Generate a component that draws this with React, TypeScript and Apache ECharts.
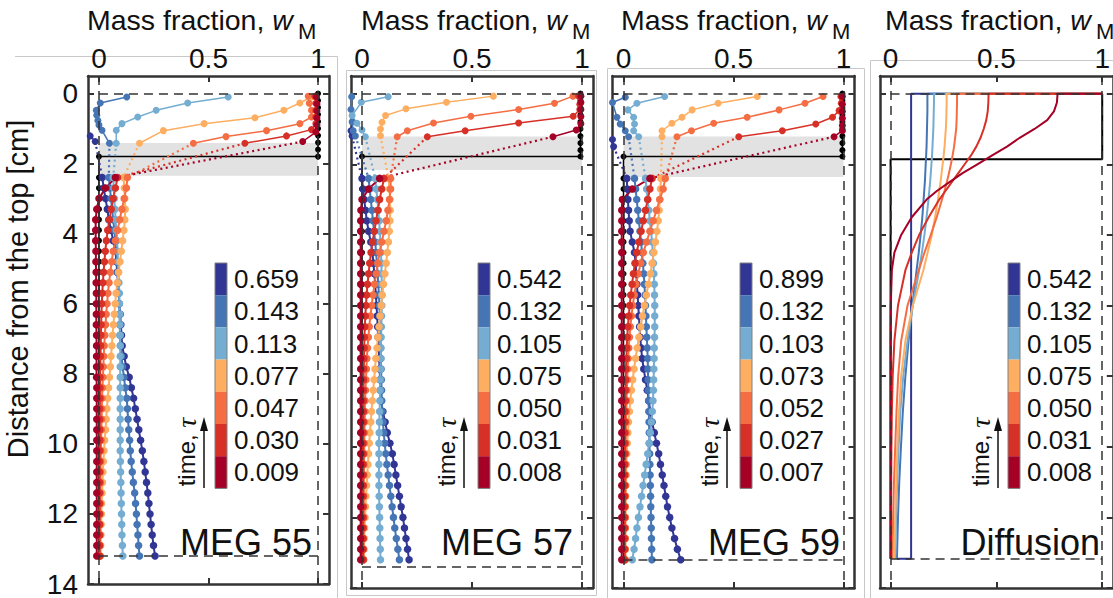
import React, { useEffect, useRef } from 'react';
import * as echarts from 'echarts';

const FONT = "'Liberation Sans', Arial, Helvetica, sans-serif";
const FRAME = '#333333';
const TEXT = '#111111';
const COLORS = ['#313695', '#4575b4', '#74add1', '#fdae61', '#f46d43', '#d73027', '#a50026'];
const X_TICKS = [0, 0.5, 1];
const Y_TICKS = [0, 2, 4, 6, 8, 10, 12, 14];

const LOWER_DEPTHS = [2.4, 2.7, 3.0, 3.3, 3.6, 3.9, 4.2, 4.5, 4.8, 5.1, 5.4, 5.7, 6.0, 6.3, 6.6, 6.9, 7.2, 7.5, 7.8, 8.1, 8.4, 8.7, 9.0, 9.3, 9.6, 9.9, 10.2, 10.5, 10.8, 11.1, 11.4, 11.7, 12.0, 12.3, 12.6, 12.9, 13.2];
const BLACK_TOP_DEPTHS = [0, 0.2, 0.4, 0.6, 0.8, 1.0, 1.2, 1.4, 1.6];

const TAU_MEG55 = ['0.659', '0.143', '0.113', '0.077', '0.047', '0.030', '0.009'];
const TAU_MEG57 = ['0.542', '0.132', '0.105', '0.075', '0.050', '0.031', '0.008'];
const TAU_MEG59 = ['0.899', '0.132', '0.103', '0.073', '0.052', '0.027', '0.007'];
const TAU_DIFF = ['0.542', '0.132', '0.105', '0.075', '0.050', '0.031', '0.008'];

// upper (above the interface) measured points [w, depth]
const MEG55_TOP = [
  [[-0.04, 1.21], [-0.017, 1.37]],
  [[0.127, 0.1], [0.006, 0.27], [-0.012, 0.48], [-0.01, 0.62], [-0.005, 0.77], [0.0, 0.9], [0.014, 1.05], [0.048, 1.42]],
  [[0.59, 0.1], [0.405, 0.27], [0.261, 0.48], [0.177, 0.67], [0.105, 0.86], [0.079, 1.05], [0.079, 1.42]],
  [[0.97, 0.1], [0.917, 0.27], [0.844, 0.48], [0.712, 0.69], [0.48, 0.86], [0.294, 1.06], [0.185, 1.42]],
  [[0.955, 0.08], [0.96, 0.28], [0.97, 0.48], [0.97, 0.67], [0.917, 0.86], [0.765, 1.06], [0.58, 1.23], [0.431, 1.42]],
  [[0.985, 0.08], [0.99, 0.28], [0.99, 0.48], [0.99, 0.67], [0.99, 0.86], [0.97, 1.03], [0.856, 1.21], [0.666, 1.42]],
  [[0.993, 0.1], [0.995, 0.3], [0.995, 0.5], [0.995, 0.7], [0.995, 0.9], [0.99, 1.1], [0.93, 1.37]],
];
const MEG55_LOWER = [
  [0.015, 0.022, 0.03, 0.038, 0.045, 0.055, 0.065, 0.075, 0.08, 0.083, 0.087, 0.09, 0.093, 0.097, 0.1, 0.103, 0.106, 0.115, 0.125, 0.138, 0.148, 0.158, 0.166, 0.174, 0.182, 0.19, 0.198, 0.205, 0.211, 0.217, 0.223, 0.228, 0.233, 0.238, 0.243, 0.249, 0.256],
  [0.045, 0.05, 0.055, 0.06, 0.065, 0.07, 0.075, 0.08, 0.083, 0.086, 0.088, 0.09, 0.092, 0.094, 0.095, 0.096, 0.098, 0.103, 0.108, 0.114, 0.12, 0.127, 0.13, 0.133, 0.136, 0.14, 0.143, 0.147, 0.152, 0.157, 0.163, 0.167, 0.171, 0.174, 0.178, 0.181, 0.185],
  [0.065, 0.068, 0.07, 0.073, 0.076, 0.079, 0.082, 0.085, 0.087, 0.089, 0.091, 0.093, 0.094, 0.095, 0.096, 0.097, 0.097, 0.097, 0.097, 0.097, 0.097, 0.097, 0.097, 0.097, 0.097, 0.097, 0.097, 0.098, 0.099, 0.1, 0.101, 0.102, 0.103, 0.104, 0.105, 0.107, 0.109],
  [0.112, 0.116, 0.118, 0.12, 0.118, 0.114, 0.108, 0.102, 0.096, 0.09, 0.084, 0.078, 0.074, 0.07, 0.066, 0.062, 0.059, 0.055, 0.052, 0.048, 0.044, 0.04, 0.036, 0.033, 0.03, 0.026, 0.023, 0.02, 0.018, 0.016, 0.014, 0.012, 0.011, 0.01, 0.009, 0.008, 0.007],
  [0.13, 0.125, 0.115, 0.105, 0.095, 0.085, 0.075, 0.065, 0.058, 0.052, 0.046, 0.041, 0.037, 0.033, 0.03, 0.027, 0.024, 0.022, 0.02, 0.018, 0.016, 0.014, 0.013, 0.012, 0.011, 0.01, 0.009, 0.008, 0.007, 0.007, 0.006, 0.006, 0.005, 0.005, 0.005, 0.005, 0.005],
  [0.085, 0.075, 0.065, 0.056, 0.048, 0.04, 0.034, 0.029, 0.025, 0.021, 0.018, 0.015, 0.013, 0.011, 0.01, 0.009, 0.008, 0.007, 0.006, 0.005, 0.005, 0.005, 0.004, 0.004, 0.004, 0.004, 0.004, 0.003, 0.003, 0.003, 0.003, 0.003, 0.003, 0.003, 0.003, 0.003, 0.003],
  [0.075, 0.03, 0.0, -0.01, -0.015, -0.015, -0.015, -0.014, -0.014, -0.013, -0.013, -0.012, -0.012, -0.012, -0.012, -0.011, -0.011, -0.011, -0.011, -0.011, -0.01, -0.01, -0.01, -0.01, -0.01, -0.01, -0.01, -0.01, -0.01, -0.01, -0.01, -0.01, -0.01, -0.01, -0.01, -0.01, -0.01],
];

const MEG57_TOP = [
  [[-0.05, 1.05], [-0.045, 1.2]],
  [[-0.047, 0.085], [-0.05, 0.45], [-0.045, 0.8], [-0.04, 1.05], [-0.03, 1.2]],
  [[0.119, 0.085], [-0.003, 0.245], [-0.045, 0.62], [-0.023, 0.84], [0.0, 1.03], [0.015, 1.22]],
  [[0.597, 0.07], [0.384, 0.245], [0.2, 0.43], [0.107, 0.62], [0.091, 0.81], [0.084, 1.0], [0.084, 1.19]],
  [[0.959, 0.07], [0.875, 0.27], [0.712, 0.45], [0.495, 0.64], [0.325, 0.83], [0.206, 1.05], [0.16, 1.22]],
  [[0.985, 0.07], [0.99, 0.3], [0.99, 0.45], [0.96, 0.64], [0.712, 0.83], [0.469, 1.05], [0.297, 1.22]],
  [[0.995, 0.07], [0.995, 0.25], [0.995, 0.45], [0.995, 0.65], [0.995, 0.85], [0.974, 1.03], [0.868, 1.22]],
];
const MEG57_LOWER = [
  [0.0, 0.005, 0.01, 0.016, 0.022, 0.03, 0.04, 0.047, 0.052, 0.056, 0.06, 0.063, 0.066, 0.069, 0.071, 0.073, 0.076, 0.078, 0.08, 0.082, 0.083, 0.086, 0.095, 0.105, 0.115, 0.127, 0.138, 0.146, 0.154, 0.162, 0.17, 0.178, 0.186, 0.193, 0.2, 0.207, 0.214],
  [0.03, 0.035, 0.04, 0.045, 0.05, 0.055, 0.06, 0.064, 0.068, 0.071, 0.074, 0.077, 0.079, 0.081, 0.083, 0.084, 0.085, 0.086, 0.087, 0.088, 0.089, 0.09, 0.092, 0.095, 0.099, 0.103, 0.108, 0.113, 0.119, 0.125, 0.131, 0.137, 0.143, 0.149, 0.156, 0.163, 0.17],
  [0.06, 0.065, 0.07, 0.074, 0.078, 0.081, 0.084, 0.086, 0.088, 0.089, 0.09, 0.09, 0.09, 0.089, 0.088, 0.087, 0.086, 0.085, 0.084, 0.083, 0.082, 0.081, 0.08, 0.079, 0.078, 0.077, 0.077, 0.077, 0.077, 0.077, 0.078, 0.079, 0.08, 0.081, 0.082, 0.083, 0.084],
  [0.12, 0.125, 0.127, 0.128, 0.127, 0.124, 0.12, 0.115, 0.11, 0.104, 0.098, 0.092, 0.087, 0.082, 0.077, 0.072, 0.068, 0.063, 0.059, 0.055, 0.051, 0.047, 0.043, 0.04, 0.036, 0.033, 0.03, 0.027, 0.024, 0.021, 0.018, 0.016, 0.014, 0.012, 0.01, 0.009, 0.008],
  [0.13, 0.13, 0.125, 0.118, 0.11, 0.1, 0.09, 0.08, 0.072, 0.064, 0.057, 0.05, 0.044, 0.038, 0.033, 0.029, 0.025, 0.022, 0.02, 0.018, 0.016, 0.014, 0.013, 0.012, 0.011, 0.01, 0.01, 0.009, 0.009, 0.008, 0.008, 0.008, 0.008, 0.007, 0.007, 0.007, 0.007],
  [0.1, 0.09, 0.08, 0.072, 0.064, 0.056, 0.048, 0.041, 0.035, 0.03, 0.025, 0.021, 0.018, 0.015, 0.013, 0.011, 0.01, 0.009, 0.008, 0.007, 0.007, 0.006, 0.006, 0.006, 0.005, 0.005, 0.005, 0.005, 0.005, 0.005, 0.005, 0.005, 0.005, 0.005, 0.005, 0.005, 0.005],
  [0.08, 0.03, 0.0, -0.005, -0.006, -0.006, -0.006, -0.006, -0.006, -0.006, -0.006, -0.006, -0.006, -0.006, -0.006, -0.006, -0.006, -0.006, -0.006, -0.006, -0.006, -0.006, -0.006, -0.006, -0.006, -0.006, -0.006, -0.006, -0.006, -0.006, -0.006, -0.006, -0.006, -0.006, -0.006, -0.006, -0.006],
];

const MEG59_TOP = [
  [[-0.05, 1.3], [-0.045, 1.5]],
  [[0.008, 0.1], [-0.05, 0.25], [-0.03, 0.67], [-0.015, 0.86], [0.008, 1.05], [0.023, 1.22]],
  [[0.187, 0.08], [0.061, 0.27], [0.02, 0.46], [0.046, 0.67], [0.05, 0.86], [0.046, 1.05], [0.069, 1.22]],
  [[0.608, 0.08], [0.43, 0.27], [0.312, 0.46], [0.266, 0.67], [0.22, 0.84], [0.175, 1.05], [0.175, 1.22]],
  [[0.907, 0.08], [0.825, 0.27], [0.707, 0.46], [0.562, 0.67], [0.41, 0.84], [0.309, 1.05], [0.243, 1.22]],
  [[0.988, 0.08], [0.99, 0.27], [0.98, 0.48], [0.95, 0.67], [0.874, 0.86], [0.722, 1.05], [0.524, 1.22]],
  [[0.995, 0.08], [0.995, 0.3], [0.995, 0.5], [0.995, 0.7], [0.995, 0.9], [0.995, 1.05], [0.957, 1.22]],
];
const MEG59_LOWER = [
  [0.015, 0.017, 0.02, 0.023, 0.026, 0.03, 0.04, 0.05, 0.055, 0.058, 0.061, 0.064, 0.067, 0.07, 0.073, 0.076, 0.08, 0.085, 0.092, 0.1, 0.108, 0.115, 0.122, 0.13, 0.14, 0.15, 0.16, 0.168, 0.176, 0.184, 0.192, 0.2, 0.21, 0.22, 0.232, 0.245, 0.26],
  [0.05, 0.055, 0.06, 0.065, 0.07, 0.075, 0.08, 0.084, 0.088, 0.092, 0.095, 0.098, 0.1, 0.102, 0.104, 0.106, 0.108, 0.11, 0.111, 0.112, 0.113, 0.114, 0.115, 0.116, 0.117, 0.118, 0.119, 0.12, 0.121, 0.122, 0.123, 0.124, 0.125, 0.126, 0.127, 0.128, 0.129],
  [0.1, 0.105, 0.11, 0.115, 0.12, 0.125, 0.13, 0.133, 0.136, 0.138, 0.14, 0.141, 0.142, 0.142, 0.142, 0.141, 0.14, 0.139, 0.138, 0.137, 0.136, 0.134, 0.131, 0.127, 0.122, 0.116, 0.11, 0.103, 0.096, 0.089, 0.082, 0.075, 0.068, 0.061, 0.055, 0.048, 0.04],
  [0.17, 0.168, 0.165, 0.162, 0.158, 0.152, 0.145, 0.138, 0.13, 0.122, 0.113, 0.104, 0.095, 0.086, 0.078, 0.07, 0.062, 0.055, 0.048, 0.042, 0.036, 0.031, 0.027, 0.023, 0.02, 0.017, 0.015, 0.013, 0.012, 0.011, 0.01, 0.009, 0.009, 0.008, 0.008, 0.008, 0.008],
  [0.19, 0.18, 0.165, 0.15, 0.135, 0.12, 0.105, 0.09, 0.078, 0.067, 0.057, 0.049, 0.042, 0.036, 0.031, 0.027, 0.024, 0.021, 0.019, 0.017, 0.015, 0.014, 0.013, 0.012, 0.011, 0.01, 0.01, 0.009, 0.009, 0.009, 0.008, 0.008, 0.008, 0.008, 0.008, 0.008, 0.008],
  [0.13, 0.12, 0.11, 0.1, 0.09, 0.08, 0.07, 0.06, 0.052, 0.045, 0.039, 0.033, 0.028, 0.024, 0.02, 0.017, 0.015, 0.013, 0.011, 0.01, 0.009, 0.008, 0.007, 0.007, 0.006, 0.006, 0.006, 0.005, 0.005, 0.005, 0.005, 0.005, 0.005, 0.005, 0.005, 0.005, 0.005],
  [0.12, 0.04, -0.005, -0.008, -0.008, -0.008, -0.008, -0.008, -0.008, -0.008, -0.008, -0.008, -0.008, -0.008, -0.008, -0.008, -0.008, -0.008, -0.008, -0.008, -0.008, -0.008, -0.008, -0.008, -0.008, -0.008, -0.008, -0.008, -0.008, -0.008, -0.008, -0.008, -0.008, -0.008, -0.008, -0.008, -0.008],
];

// diffusion model profiles
const DIFF_DEPTHS = [0, 0.25, 0.5, 0.75, 1, 1.25, 1.5, 1.75, 2, 2.25, 2.5, 2.75, 3, 3.5, 4, 4.5, 5, 6, 7, 8, 9, 10, 11, 12, 13.17];
const DIFF_X = [
  [0.097, 0.097, 0.097, 0.097, 0.097, 0.097, 0.097, 0.097, 0.097, 0.097, 0.097, 0.097, 0.097, 0.097, 0.097, 0.097, 0.097, 0.097, 0.097, 0.097, 0.097, 0.097, 0.097, 0.097, 0.097],
  [0.174, 0.174, 0.174, 0.173, 0.172, 0.171, 0.17, 0.168, 0.166, 0.164, 0.162, 0.159, 0.156, 0.15, 0.142, 0.133, 0.123, 0.103, 0.085, 0.07, 0.058, 0.049, 0.041, 0.035, 0.03],
  [0.205, 0.205, 0.204, 0.203, 0.202, 0.2, 0.198, 0.196, 0.193, 0.19, 0.187, 0.183, 0.179, 0.17, 0.16, 0.148, 0.135, 0.105, 0.08, 0.06, 0.046, 0.038, 0.031, 0.026, 0.022],
  [0.265, 0.265, 0.264, 0.263, 0.261, 0.258, 0.255, 0.251, 0.246, 0.241, 0.236, 0.23, 0.224, 0.21, 0.195, 0.175, 0.155, 0.105, 0.07, 0.05, 0.04, 0.032, 0.027, 0.022, 0.018],
  [0.314, 0.314, 0.313, 0.312, 0.31, 0.305, 0.3, 0.293, 0.285, 0.276, 0.266, 0.255, 0.243, 0.218, 0.19, 0.16, 0.133, 0.08, 0.05, 0.036, 0.028, 0.022, 0.016, 0.012, 0.008],
  [0.463, 0.462, 0.459, 0.452, 0.44, 0.425, 0.405, 0.38, 0.35, 0.32, 0.29, 0.26, 0.23, 0.18, 0.135, 0.1, 0.07, 0.035, 0.018, 0.01, 0.006, 0.004, 0.003, 0.002, 0.002],
  [0.789, 0.786, 0.772, 0.74, 0.68, 0.61, 0.55, 0.48, 0.41, 0.34, 0.28, 0.22, 0.17, 0.1, 0.05, 0.018, 0.006, 0.001, 0, 0, 0, 0, 0, 0, 0],
];
const DIFF_BLUE_BOTTOM = 0.03;
const DIFF_INTERFACE = 1.86;
const DIFF_BOTTOM = 13.17;

const PANELS = [
  { name: 'MEG 55', top: MEG55_TOP, lower: MEG55_LOWER, taus: TAU_MEG55, band: [1.41, 2.35], iface: 1.8, blackX: 1.0, bottom: 13.2 },
  { name: 'MEG 57', top: MEG57_TOP, lower: MEG57_LOWER, taus: TAU_MEG57, band: [1.21, 2.16], iface: 1.78, blackX: 0.993, bottom: 13.4 },
  { name: 'MEG 59', top: MEG59_TOP, lower: MEG59_LOWER, taus: TAU_MEG59, band: [1.21, 2.36], iface: 1.78, blackX: 0.995, bottom: 13.2 },
  { name: 'Diffusion', top: null, lower: null, taus: TAU_DIFF, band: null, iface: DIFF_INTERFACE, blackX: 1.0, bottom: DIFF_BOTTOM },
];

const LAYOUT = [
  { left: 88, width: 241, titleX: 87, legendX: 215, arrowX: 204, timeX: 186, labelRight: 312 },
  { left: 351, width: 242, titleX: 361, legendX: 478, arrowX: 464, timeX: 446, labelRight: 573 },
  { left: 612.5, width: 242, titleX: 621, legendX: 740, arrowX: 727, timeX: 709, labelRight: 840 },
  { left: 880, width: 242, titleX: 885, legendX: 1008, arrowX: 998, timeX: 980, labelRight: 1100 },
];

const GRID_TOP = 76;
const GRID_H = 512;
const BLOCK_TOP = 263;
const BLOCK_H = 32.2;
const BLOCK_W = 12;

function buildOption() {
  const grid: any[] = [];
  const xAxis: any[] = [];
  const yAxis: any[] = [];
  const series: any[] = [];
  const graphic: any[] = [];

  const axisLine = { show: true, onZero: false, lineStyle: { color: FRAME, width: 2.5 } };
  const tick = (vals: number[]) => ({ show: true, inside: true, length: 6, customValues: vals, lineStyle: { color: FRAME, width: 2 } });

  LAYOUT.forEach((L, p) => {
    grid.push({ left: L.left, top: GRID_TOP, width: L.width, height: GRID_H, containLabel: false });
    xAxis.push({
      type: 'value', gridIndex: p, position: 'top', min: -0.05, max: 1.05,
      axisLine, axisTick: tick(X_TICKS), splitLine: { show: false },
      axisLabel: { show: true, customValues: X_TICKS, fontSize: 28, fontFamily: FONT, color: TEXT, margin: 4 },
    });
    xAxis.push({
      type: 'value', gridIndex: p, position: 'bottom', min: -0.05, max: 1.05,
      axisLine, axisTick: tick(X_TICKS), splitLine: { show: false }, axisLabel: { show: false },
    });
    yAxis.push({
      type: 'value', gridIndex: p, position: 'left', inverse: true, min: -0.5, max: 14,
      axisLine, axisTick: tick(Y_TICKS), splitLine: { show: false },
      axisLabel: { show: p === 0, customValues: Y_TICKS, fontSize: 28, fontFamily: FONT, color: TEXT, margin: 10 },
    });
    yAxis.push({
      type: 'value', gridIndex: p, position: 'right', inverse: true, min: -0.5, max: 14,
      axisLine, axisTick: tick(Y_TICKS), splitLine: { show: false }, axisLabel: { show: false },
    });
  });

  PANELS.forEach((P, p) => {
    const ax = { xAxisIndex: p * 2, yAxisIndex: p * 2 };
    if (P.band) {
      series.push({
        type: 'line', ...ax, data: [], z: 1, silent: true,
        markArea: { silent: true, itemStyle: { color: '#e2e2e2' }, data: [[{ xAxis: 0, yAxis: P.band[0] }, { xAxis: 1, yAxis: P.band[1] }]] },
      });
    }
    series.push({
      type: 'line', ...ax, data: [], z: 2, silent: true,
      markLine: {
        silent: true, symbol: ['none', 'none'], label: { show: false },
        lineStyle: { color: '#333', width: 1.5, type: [9, 6] },
        data: [
          { xAxis: 0 }, { xAxis: 1 },
          [{ coord: [0, 0] }, { coord: [1, 0] }],
          [{ coord: [0, P.bottom] }, { coord: [1, P.bottom] }],
        ],
      },
    });

    if (P.top && P.lower) {
      const blackData = [
        ...BLACK_TOP_DEPTHS.map((d) => [P.blackX, d]),
        [P.blackX, P.iface], [0, P.iface],
        ...LOWER_DEPTHS.map((d) => [0, d]),
      ];
      series.push({
        type: 'line', ...ax, data: blackData, z: 3, symbol: 'circle', symbolSize: 6,
        lineStyle: { color: '#000', width: 1.5 }, itemStyle: { color: '#000' },
      });
      for (let i = 0; i < 7; i++) {
        const c = COLORS[i];
        const top = P.top[i];
        const low = P.lower[i].map((v, k) => [v, LOWER_DEPTHS[k]]);
        series.push({
          type: 'line', ...ax, data: top, z: 4, symbol: 'circle', symbolSize: 7,
          lineStyle: { color: c, width: 1.5 }, itemStyle: { color: c },
        });
        series.push({
          type: 'line', ...ax, data: [top[top.length - 1], low[0]], z: 4, symbol: 'none',
          lineStyle: { color: c, width: 2.2, type: [2, 3.5] },
        });
        series.push({
          type: 'line', ...ax, data: low, z: 4, symbol: 'circle', symbolSize: 7.5,
          lineStyle: { color: c, width: 2 }, itemStyle: { color: c },
        });
      }
    } else {
      series.push({
        type: 'line', ...ax, z: 3, symbol: 'none',
        data: [[0, DIFF_BOTTOM], [0, DIFF_INTERFACE], [1, DIFF_INTERFACE], [1, 0]],
        lineStyle: { color: '#000', width: 2 },
      });
      DIFF_X.forEach((xs, i) => {
        const pts: number[][] = [[1, 0], ...xs.map((v, k) => [v, DIFF_DEPTHS[k]])];
        if (i === 0) pts.push([DIFF_BLUE_BOTTOM, DIFF_BOTTOM]);
        series.push({
          type: 'line', ...ax, data: pts, z: 4, symbol: 'none',
          lineStyle: { color: COLORS[i], width: 2 },
        });
      });
    }
  });

  // thin figure frames
  const frameStyle = { stroke: '#c8c8c8', lineWidth: 1, fill: 'none' };
  graphic.push({ type: 'polyline', silent: true, shape: { points: [[15, 56.5], [337.5, 56.5], [337.5, 598]] }, style: frameStyle });
  graphic.push({ type: 'rect', silent: true, shape: { x: 346.5, y: 70.5, width: 250, height: 525 }, style: frameStyle });
  graphic.push({ type: 'rect', silent: true, shape: { x: 607.5, y: 68.5, width: 257, height: 540 }, style: frameStyle });
  graphic.push({ type: 'polyline', silent: true, shape: { points: [[870.5, 598], [870.5, 60.5], [1113, 60.5]] }, style: frameStyle });

  // y-axis name
  graphic.push({
    type: 'text', x: 18, y: 289, rotation: Math.PI / 2, z: 10,
    style: { text: 'Distance from the top [cm]', fontSize: 29, fontFamily: FONT, fill: TEXT, align: 'center', verticalAlign: 'middle', textAlign: 'center', textVerticalAlign: 'middle' },
  });

  LAYOUT.forEach((L, p) => {
    const P = PANELS[p];
    graphic.push({
      type: 'text', x: L.titleX, y: 20, z: 10,
      style: {
        text: '{a|Mass fraction, }{w|w}',
        align: 'left', verticalAlign: 'middle', textAlign: 'left', textVerticalAlign: 'middle',
        rich: {
          a: { fontSize: 28.5, fontFamily: FONT, fill: TEXT },
          w: { fontSize: 28.5, fontFamily: FONT, fontStyle: 'italic', fill: TEXT },
        },
      },
    });
    graphic.push({
      type: 'text', x: L.titleX + 211, y: 31, z: 10,
      style: { text: 'M', fontSize: 22, fontFamily: FONT, fill: TEXT, align: 'left', verticalAlign: 'middle', textAlign: 'left', textVerticalAlign: 'middle' },
    });
    COLORS.forEach((c, i) => {
      graphic.push({ type: 'rect', z: 10, silent: true, shape: { x: L.legendX, y: BLOCK_TOP + i * BLOCK_H, width: BLOCK_W, height: BLOCK_H }, style: { fill: c } });
    });
    graphic.push({ type: 'rect', z: 11, silent: true, shape: { x: L.legendX, y: BLOCK_TOP, width: BLOCK_W, height: 7 * BLOCK_H }, style: { fill: 'none', stroke: '#808080', lineWidth: 1 } });
    P.taus.forEach((t, i) => {
      graphic.push({
        type: 'text', z: 10, x: L.legendX + BLOCK_W + 7, y: BLOCK_TOP + (i + 0.5) * BLOCK_H,
        style: { text: t, fontSize: 26, fontFamily: FONT, fill: TEXT, align: 'left', verticalAlign: 'middle', textAlign: 'left', textVerticalAlign: 'middle' },
      });
    });
    graphic.push({
      type: 'text', z: 10, x: L.timeX, y: 452, rotation: Math.PI / 2,
      style: {
        text: '{a|time, }{t|τ}', align: 'center', verticalAlign: 'middle', textAlign: 'center', textVerticalAlign: 'middle',
        rich: {
          a: { fontSize: 24, fontFamily: FONT, fill: TEXT },
          t: { fontSize: 28, fontFamily: "'Liberation Serif', 'DejaVu Serif', serif", fontStyle: 'italic', fill: TEXT },
        },
      },
    });
    graphic.push({ type: 'line', z: 10, silent: true, shape: { x1: L.arrowX, y1: 488, x2: L.arrowX, y2: 428 }, style: { stroke: TEXT, lineWidth: 1.5 } });
    graphic.push({ type: 'polygon', z: 10, silent: true, shape: { points: [[L.arrowX - 4, 431], [L.arrowX + 4, 431], [L.arrowX, 417]] }, style: { fill: TEXT } });
    graphic.push({
      type: 'text', z: 10, x: L.labelRight, y: 542,
      style: { text: P.name, fontSize: 36, fontFamily: FONT, fill: TEXT, align: 'right', verticalAlign: 'middle', textAlign: 'right', textVerticalAlign: 'middle' },
    });
  });

  return {
    animation: false,
    backgroundColor: '#ffffff',
    grid, xAxis, yAxis, series, graphic,
  };
}

export default function App() {
  const ref = useRef<HTMLDivElement>(null);
  useEffect(() => {
    if (!ref.current) return;
    const chart = echarts.init(ref.current, null, { renderer: 'svg' });
    chart.setOption(buildOption() as any);
    return () => chart.dispose();
  }, []);
  return (
    <div
      ref={ref}
      style={{ position: 'absolute', left: 0, top: 0, width: 1113, height: 598, background: '#fff' }}
    />
  );
}
